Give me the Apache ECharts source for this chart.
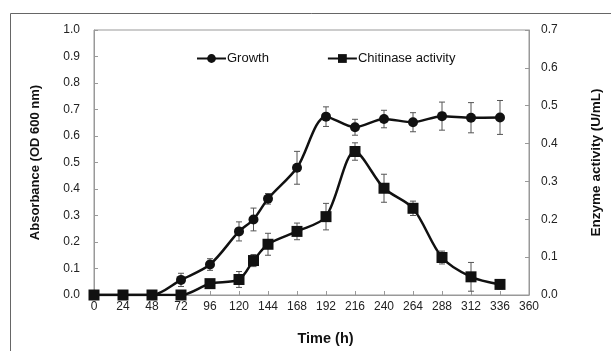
<!DOCTYPE html>
<html><head><meta charset="utf-8">
<script src="https://cdn.jsdelivr.net/npm/echarts@6/dist/echarts.min.js"></script>
<style>html,body{margin:0;padding:0;background:#fff}#c{width:611px;height:351px}</style>
</head><body><div id="c"></div>
<script>
const times = [0,24,48,72,96,120,132,144,168,192,216,240,264,288,312,336];
const growth = [0,0,0,0.057,0.115,0.24,0.285,0.363,0.48,0.673,0.633,0.664,0.652,0.675,0.669,0.67];
const growthErr = [0,0,0,0.025,0.022,0.036,0.043,0.02,0.062,0.037,0.03,0.033,0.036,0.053,0.057,0.064];
const chitinase = [0,0,0,0,0.03,0.041,0.091,0.134,0.168,0.207,0.379,0.282,0.229,0.099,0.048,0.028];
const chitErr = [0,0,0,0,0.01,0.021,0.016,0.029,0.022,0.035,0.023,0.037,0.019,0.017,0.038,0.012];
const leftTicks = ['0.0','0.1','0.2','0.3','0.4','0.5','0.6','0.7','0.8','0.9','1.0'];
const rightTicks = ['0.0','0.1','0.2','0.3','0.4','0.5','0.6','0.7'];

const FONT = 'Liberation Sans, Arial, sans-serif';
const chart = echarts.init(document.getElementById('c'), null, {renderer:'canvas'});

function errSeries(vals, errs, yIdx, name) {
  return {
    type: 'custom', name: name, yAxisIndex: yIdx, silent: true, z: 1,
    data: times.map((t,i)=>[t, vals[i]-errs[i], vals[i]+errs[i]]).filter((d,i)=>errs[i]>0),
    renderItem: function(params, api) {
      const lo = api.coord([api.value(0), api.value(1)]);
      const hi = api.coord([api.value(0), api.value(2)]);
      const w = 3;
      const st = {stroke:'#555', lineWidth:1};
      return {type:'group', children:[
        {type:'line', shape:{x1:lo[0],y1:lo[1],x2:hi[0],y2:hi[1]}, style:st},
        {type:'line', shape:{x1:lo[0]-w,y1:lo[1],x2:lo[0]+w,y2:lo[1]}, style:st},
        {type:'line', shape:{x1:hi[0]-w,y1:hi[1],x2:hi[0]+w,y2:hi[1]}, style:st}
      ]};
    }
  };
}

chart.setOption({
  animation: false,
  textStyle: {fontFamily: FONT},
  graphic: [{type:'rect', shape:{x:10.5,y:13.5,width:700,height:400}, style:{fill:'none', stroke:'#666', lineWidth:1}, z:-10}],
  grid: {left:94, right:74, top:30, bottom:52, show:true, borderColor:'#999', borderWidth:1},
  legend: {
    left: 191, top: 47, itemWidth: 29, itemHeight: 11, itemGap: 58,
    textStyle: {fontFamily: FONT, fontSize: 13, color:'#111', padding:[0,0,0,-4]},
    data: ['Growth', 'Chitinase activity']
  },
  xAxis: {
    type:'value', min:0, max:360, interval:24,
    name:'Time (h)', nameLocation:'middle', nameGap:36,
    nameTextStyle:{fontFamily:FONT, fontWeight:'bold', fontSize:14.5, color:'#111', padding:[0,0,0,28]},
    axisLine:{show:true, lineStyle:{color:'#999'}},
    axisTick:{show:true, inside:true, length:4, lineStyle:{color:'#999'}},
    axisLabel:{fontFamily:FONT, fontSize:12, color:'#222', margin:6},
    splitLine:{show:false}
  },
  yAxis: [{
    type:'value', min:0, max:1.0, interval:0.1,
    name:'Absorbance (OD 600 nm)', nameLocation:'middle', nameGap:52, nameRotate:90,
    nameTextStyle:{fontFamily:FONT, fontWeight:'bold', fontSize:13, color:'#111'},
    axisLine:{show:true, lineStyle:{color:'#999'}},
    axisTick:{show:true, inside:true, length:4, lineStyle:{color:'#999'}},
    axisLabel:{fontFamily:FONT, fontSize:12, color:'#222', margin:14, formatter:(v)=>leftTicks[Math.round(v*10)]},
    splitLine:{show:false}
  },{
    type:'value', min:0, max:0.7, interval:0.1, position:'right',
    name:'Enzyme activity (U/mL)', nameLocation:'middle', nameGap:60, nameRotate:90,
    nameTextStyle:{fontFamily:FONT, fontWeight:'bold', fontSize:13.5, color:'#111'},
    axisLine:{show:true, lineStyle:{color:'#999'}},
    axisTick:{show:true, inside:true, length:4, lineStyle:{color:'#999'}},
    axisLabel:{fontFamily:FONT, fontSize:12, color:'#222', margin:12, formatter:(v)=>rightTicks[Math.round(v*10)]},
    splitLine:{show:false}
  }],
  series: [
    errSeries(growth, growthErr, 0, 'gErr'),
    errSeries(chitinase, chitErr, 1, 'cErr'),
    {
      name:'Growth', type:'line', yAxisIndex:0, smooth:0.3, z:3,
      data: times.map((t,i)=>[t, growth[i]]),
      symbol:'circle', symbolSize:10,
      lineStyle:{color:'#111', width:2.5}, itemStyle:{color:'#111'}
    },
    {
      name:'Chitinase activity', type:'line', yAxisIndex:1, smooth:0.3, z:4,
      data: times.map((t,i)=>[t, chitinase[i]]),
      symbol:'rect', symbolSize:11,
      lineStyle:{color:'#111', width:2.5}, itemStyle:{color:'#111'}
    }
  ]
});
</script></body></html>
